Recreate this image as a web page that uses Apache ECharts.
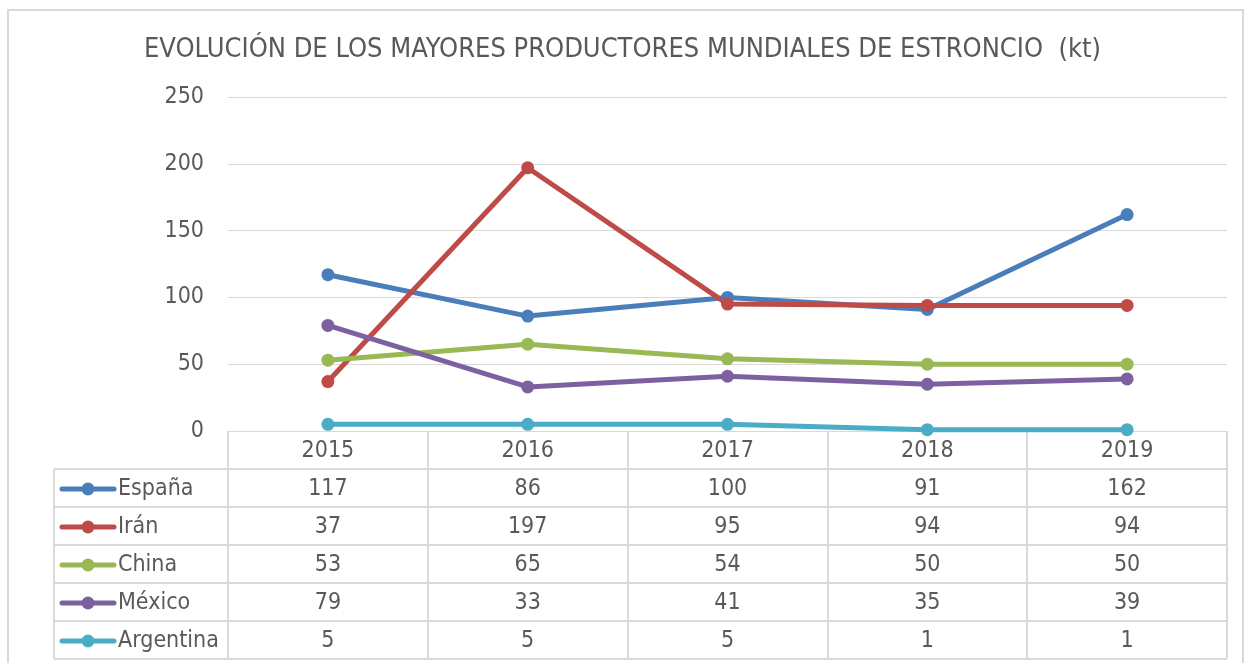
<!DOCTYPE html>
<html>
<head>
<meta charset="utf-8">
<script src="https://cdn.jsdelivr.net/npm/echarts@6/dist/echarts.min.js"></script>
<style>
  html, body { margin: 0; padding: 0; background: #fff; }
  #chart { width: 1245px; height: 663px; }
</style>
</head>
<body>
<div id="chart"></div>
<script>
// datos
var years = ['2015', '2016', '2017', '2018', '2019']
var espana = [117, 86, 100, 91, 162]
var iran = [37, 197, 95, 94, 94]
var china = [53, 65, 54, 50, 50]
var mexico = [79, 33, 41, 35, 39]
var argentina = [5, 5, 5, 1, 1]
var yTicks = [0, 50, 100, 150, 200, 250]

var seriesDefs = [
  { name: 'España', data: espana, color: '#4A7EBB' },
  { name: 'Irán', data: iran, color: '#BE4B48' },
  { name: 'China', data: china, color: '#98B954' },
  { name: 'México', data: mexico, color: '#7D60A0' },
  { name: 'Argentina', data: argentina, color: '#4BACC6' }
]

var font = '"DejaVu Sans Condensed", "DejaVu Sans", sans-serif'
var fs = 23
var txtColor = '#595959'
var lineColor = '#D9D9D9'

var myChart = echarts.init(document.getElementById('chart'))

myChart.setOption({
  backgroundColor: '#fff',
  animation: false,
  title: {
    text: 'EVOLUCIÓN DE LOS MAYORES PRODUCTORES MUNDIALES DE ESTRONCIO  (kt)',
    left: 'center',
    top: 31,
    textStyle: { fontFamily: font, fontSize: 27, fontWeight: 'normal', color: txtColor }
  },
  grid: { left: 228, right: 18, top: 97, bottom: 232 },
  xAxis: {
    type: 'category',
    data: years,
    boundaryGap: true,
    axisLine: { lineStyle: { color: lineColor, width: 1 } },
    axisTick: { show: true, length: 227, lineStyle: { color: lineColor, width: 2 } },
    axisLabel: { fontFamily: font, fontSize: fs, color: txtColor, margin: 9 }
  },
  yAxis: {
    type: 'value',
    min: yTicks[0],
    max: yTicks[yTicks.length - 1],
    interval: 50,
    axisLine: { show: false },
    axisTick: { show: false },
    splitLine: { lineStyle: { color: lineColor, width: 1 } },
    axisLabel: { fontFamily: font, fontSize: fs, color: txtColor, margin: 24 }
  },
  series: seriesDefs.map(function (s) {
    return {
      name: s.name,
      type: 'line',
      data: s.data,
      symbol: 'circle',
      symbolSize: 13,
      lineStyle: { color: s.color, width: 5 },
      itemStyle: { color: s.color }
    }
  })
})

// tabla de datos bajo el eje
var rowTop = 469
var rowH = 38
var tableLeft = 54
var tableRight = 1227
var g = []
for (var r = 0; r <= seriesDefs.length; r++) {
  g.push({
    type: 'line',
    shape: { x1: tableLeft, y1: rowTop + r * rowH, x2: tableRight, y2: rowTop + r * rowH },
    style: { stroke: lineColor, lineWidth: 2 }
  })
}
g.push({
  type: 'line',
  shape: { x1: tableLeft, y1: rowTop, x2: tableLeft, y2: rowTop + seriesDefs.length * rowH },
  style: { stroke: lineColor, lineWidth: 2 }
})
seriesDefs.forEach(function (s, i) {
  var cy = rowTop + i * rowH + rowH / 2 + 1
  g.push({
    type: 'line',
    shape: { x1: 62, y1: cy, x2: 114, y2: cy },
    style: { stroke: s.color, lineWidth: 5, lineCap: 'round' }
  })
  g.push({ type: 'circle', shape: { cx: 88, cy: cy, r: 6.5 }, style: { fill: s.color } })
  g.push({
    type: 'text', x: 118, y: cy,
    style: { text: s.name, font: fs + 'px ' + font, fill: txtColor, verticalAlign: 'middle' }
  })
  s.data.forEach(function (v, j) {
    var px = myChart.convertToPixel({ xAxisIndex: 0 }, years[j])
    g.push({
      type: 'text', x: px, y: cy,
      style: { text: String(v), font: fs + 'px ' + font, fill: txtColor, align: 'center', verticalAlign: 'middle' }
    })
  })
})
// marco exterior
g.push({
  type: 'rect',
  shape: { x: 8, y: 10, width: 1235, height: 660 },
  style: { fill: 'none', stroke: lineColor, lineWidth: 2 }
})
myChart.setOption({ graphic: g })
</script>
</body>
</html>
